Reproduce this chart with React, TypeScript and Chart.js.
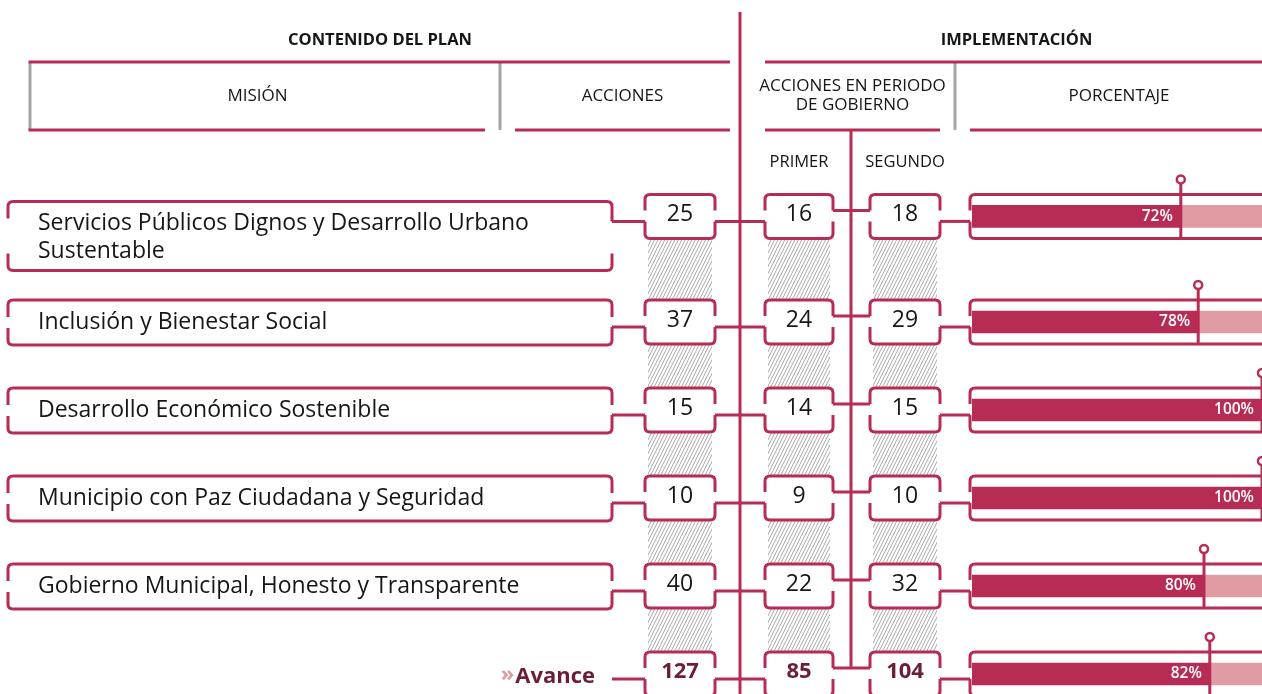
import React, { useEffect, useRef } from 'react';
import { Chart, registerables } from 'chart.js';

Chart.register(...registerables);

// ---------- DATA ----------
const missions: string[][] = [
  ['Servicios Públicos Dignos y Desarrollo Urbano', 'Sustentable'],
  ['Inclusión y Bienestar Social'],
  ['Desarrollo Económico Sostenible'],
  ['Municipio con Paz Ciudadana y Seguridad'],
  ['Gobierno Municipal, Honesto y Transparente'],
];
const totalLabel = 'Avance';
const acciones = [25, 37, 15, 10, 40, 127];
const primer = [16, 24, 14, 9, 22, 85];
const segundo = [18, 29, 15, 10, 32, 104];
const porcentaje = [72, 78, 100, 100, 80, 82];

const headerLeft = 'CONTENIDO DEL PLAN';
const headerRight = 'IMPLEMENTACIÓN';
const colMision = 'MISIÓN';
const colAcciones = 'ACCIONES';
const colPeriodo = ['ACCIONES EN PERIODO', 'DE GOBIERNO'];
const colPorcentaje = 'PORCENTAJE';
const subPrimer = 'PRIMER';
const subSegundo = 'SEGUNDO';

// ---------- STYLE ----------
const PINK = '#b72c55';
const LIGHT = '#e09ba3';
const MAROON = '#6b1d39';
const GRAY = '#a5a5a5';
const HATCH = '#a9a9a9';
const TEXT = '#161616';
const FONT = "'Open Sans', 'Noto Sans', sans-serif";

// rows: taller rows for multi-line mission labels
const rowLines = [...missions.map((m) => m.length), 1];
const rowPos: number[] = [];
rowLines.forEach((_, i) => {
  rowPos.push(i === 0 ? 0 : rowPos[i - 1] + 1 + 0.2 * (rowLines[i - 1] - 1));
});

// column geometry
const MIS = [8, 612];
const ACC = [645, 715];
const PRI = [765, 833];
const SEG = [870, 940];
const PCT_L = 970;
const X_MAIN = 740;
const X_SUB = 851;

function seg(ctx: CanvasRenderingContext2D, x1: number, y1: number, x2: number, y2: number) {
  ctx.beginPath();
  ctx.moveTo(x1, y1);
  ctx.lineTo(x2, y2);
  ctx.stroke();
}

function bracketBox(
  ctx: CanvasRenderingContext2D,
  x1: number, x2: number, top: number, bottom: number,
  lt: number, lb: number, rt: number, rb: number, r = 5
) {
  ctx.beginPath();
  ctx.moveTo(x1, lt);
  ctx.lineTo(x1, top + r);
  ctx.quadraticCurveTo(x1, top, x1 + r, top);
  ctx.lineTo(x2 - r, top);
  ctx.quadraticCurveTo(x2, top, x2, top + r);
  ctx.lineTo(x2, rt);
  ctx.moveTo(x1, lb);
  ctx.lineTo(x1, bottom - r);
  ctx.quadraticCurveTo(x1, bottom, x1 + r, bottom);
  ctx.lineTo(x2 - r, bottom);
  ctx.quadraticCurveTo(x2, bottom, x2, bottom - r);
  ctx.lineTo(x2, rb);
  ctx.stroke();
}

function hatch(ctx: CanvasRenderingContext2D, x1: number, x2: number, y1: number, y2: number) {
  if (y2 <= y1) return;
  ctx.save();
  ctx.beginPath();
  ctx.rect(x1, y1, x2 - x1, y2 - y1);
  ctx.clip();
  ctx.strokeStyle = HATCH;
  ctx.lineWidth = 1;
  const h = y2 - y1;
  const dx = h * 0.5;
  for (let x = x1 - dx; x < x2 + 4; x += 3.4) {
    seg(ctx, x, y2, x + dx, y1);
  }
  ctx.restore();
}

const infographic = {
  id: 'infographic',
  afterDatasetsDraw(chart: any) {
    const ctx: CanvasRenderingContext2D = chart.ctx;
    const ys = chart.scales.y;
    const W = chart.width;
    const H = chart.height;
    const rows = rowPos.map((p) => ys.getPixelForValue(p));
    ctx.save();
    ctx.lineCap = 'butt';
    ctx.lineJoin = 'round';

    // ----- header -----
    ctx.strokeStyle = GRAY;
    ctx.lineWidth = 3;
    seg(ctx, 30, 63, 30, 130);
    seg(ctx, 500, 63, 500, 130);
    seg(ctx, 955, 63, 955, 130);
    ctx.strokeStyle = PINK;
    seg(ctx, 28.5, 62, 730, 62);
    seg(ctx, 765, 62, W, 62);
    seg(ctx, 28.5, 130, 485, 130);
    seg(ctx, 515, 130, 730, 130);
    seg(ctx, 765, 130, 940, 130);
    seg(ctx, PCT_L, 130, W, 130);

    ctx.fillStyle = TEXT;
    ctx.textAlign = 'center';
    ctx.textBaseline = 'middle';
    ctx.font = `bold 16.5px ${FONT}`;
    ctx.fillText(headerLeft, (30 + 730) / 2, 40);
    ctx.fillText(headerRight, (765 + W) / 2 + 3, 40);
    ctx.font = `17px ${FONT}`;
    ctx.fillText(colMision, (30 + 485) / 2, 96);
    ctx.fillText(colAcciones, (515 + 730) / 2, 96);
    ctx.fillText(colPeriodo[0], (765 + 940) / 2, 86);
    ctx.fillText(colPeriodo[1], (765 + 940) / 2, 105);
    ctx.fillText(colPorcentaje, (PCT_L + W) / 2 + 3, 96);
    ctx.font = `16.5px ${FONT}`;
    ctx.fillText(subPrimer, (PRI[0] + PRI[1]) / 2, 162);
    ctx.fillText(subSegundo, (SEG[0] + SEG[1]) / 2, 162);

    // ----- hatching between rows -----
    for (let i = 0; i < rows.length - 1; i++) {
      const b = rows[i] + 23;
      const t = rows[i + 1] - 23;
      hatch(ctx, ACC[0] + 3, ACC[1] - 3, b, t);
      hatch(ctx, PRI[0] + 3, PRI[1] - 3, b, t);
      hatch(ctx, SEG[0] + 3, SEG[1] - 3, b, t);
    }

    // ----- vertical spines -----
    ctx.strokeStyle = PINK;
    ctx.lineWidth = 3;
    seg(ctx, X_MAIN, 12, X_MAIN, H);
    const lastT = rows[rows.length - 1] - 22;
    seg(ctx, X_SUB, 130, X_SUB, lastT + 16);

    // ----- rows -----
    rows.forEach((c, i) => {
      const T = c - 22;
      const B = c + 22;
      const cLow = T + 27;
      const cHigh = T + 16;
      const isTotal = i === rows.length - 1;
      ctx.strokeStyle = PINK;
      ctx.lineWidth = 3;

      if (!isTotal) {
        const lines = missions[i];
        const mt = c - 22 + 7 * (lines.length - 1);
        const mb = mt + 45 + 24 * (lines.length - 1);
        let rt = mt + 17;
        let rb = mb - 17;
        if (cLow < (mt + mb) / 2) rt = Math.max(rt, cLow);
        else rb = Math.min(rb, cLow);
        bracketBox(ctx, MIS[0], MIS[1], mt, mb, mt + 17, mb - 17, rt, rb);
        ctx.fillStyle = TEXT;
        ctx.textAlign = 'left';
        ctx.textBaseline = 'middle';
        ctx.font = `23px ${FONT}`;
        lines.forEach((ln, k) => ctx.fillText(ln, 38, mt + 22 + k * 28));
      } else {
        ctx.textAlign = 'right';
        ctx.textBaseline = 'middle';
        ctx.font = `bold 22px ${FONT}`;
        ctx.fillStyle = MAROON;
        ctx.fillText(totalLabel, 595, c + 3);
        const w = ctx.measureText(totalLabel).width;
        ctx.fillStyle = LIGHT;
        ctx.font = `bold 22px ${FONT}`;
        ctx.fillText('»', 595 - w - 1, c + 1);
      }
      // connectors
      seg(ctx, MIS[1], cLow, ACC[0], cLow);
      seg(ctx, ACC[1], cLow, PRI[0], cLow);
      seg(ctx, PRI[1], cHigh, SEG[0], cHigh);
      seg(ctx, SEG[1], cLow, PCT_L, cLow);
      // boxes
      bracketBox(ctx, ACC[0], ACC[1], T, B, cHigh, cLow, cHigh, cLow);
      bracketBox(ctx, PRI[0], PRI[1], T, B, cHigh, cLow, cHigh, cLow);
      bracketBox(ctx, SEG[0], SEG[1], T, B, cHigh, cLow, cHigh, cLow);
      bracketBox(ctx, PCT_L, W + 20, T, B, cHigh, cLow, B, B);

      // numbers
      ctx.textAlign = 'center';
      ctx.textBaseline = 'middle';
      ctx.fillStyle = isTotal ? MAROON : TEXT;
      ctx.font = `${isTotal ? 'bold 22px' : '23px'} ${FONT}`;
      ctx.fillText(String(acciones[i]), (ACC[0] + ACC[1]) / 2, c - 2);
      ctx.fillText(String(primer[i]), (PRI[0] + PRI[1]) / 2, c - 2);
      ctx.fillText(String(segundo[i]), (SEG[0] + SEG[1]) / 2, c - 2);
    });

    // ----- pins and percentage labels -----
    const meta = chart.getDatasetMeta(0);
    meta.data.forEach((el: any, i: number) => {
      const c = rows[i];
      const x = el.x;
      ctx.strokeStyle = PINK;
      ctx.lineWidth = 3;
      seg(ctx, x, c - 33, x, c + 22);
      ctx.beginPath();
      ctx.arc(x, c - 37, 4, 0, Math.PI * 2);
      ctx.fillStyle = '#ffffff';
      ctx.fill();
      ctx.lineWidth = 2.5;
      ctx.stroke();
      ctx.fillStyle = '#ffffff';
      ctx.textAlign = 'right';
      ctx.textBaseline = 'middle';
      ctx.font = `600 15.5px ${FONT}`;
      ctx.fillText(`${porcentaje[i]}%`, x - 8, el.y);
    });
    ctx.restore();
  },
};

export default function App() {
  const ref = useRef<HTMLCanvasElement | null>(null);
  useEffect(() => {
    if (!ref.current) return;
    const chart = new Chart(ref.current, {
      type: 'bar',
      data: {
        datasets: [
          {
            label: 'Avance',
            data: porcentaje.map((v, i) => ({ x: [0, v], y: rowPos[i] })) as any,
            backgroundColor: PINK,
            barThickness: 22,
            grouped: false,
            borderWidth: 0,
          } as any,
          {
            label: 'Pendiente',
            data: porcentaje.map((v, i) => ({ x: [v, 100], y: rowPos[i] })) as any,
            backgroundColor: LIGHT,
            barThickness: 22,
            grouped: false,
            borderWidth: 0,
          } as any,
        ],
      },
      options: {
        indexAxis: 'y',
        animation: false,
        responsive: false,
        maintainAspectRatio: false,
        devicePixelRatio: 1,
        layout: { padding: { left: 972, right: 0, top: 0, bottom: 0 } },
        scales: {
          x: { type: 'linear', min: 0, max: 100, display: false, offset: false },
          y: { type: 'linear', reverse: true, min: -2.459, max: 5.427, display: false, offset: false, grace: 0 },
        },
        plugins: { legend: { display: false }, tooltip: { enabled: false } },
      } as any,
      plugins: [infographic],
    });
    return () => chart.destroy();
  }, []);
  return (
    <div style={{ position: 'fixed', left: 0, top: 0, width: 1262, height: 694, background: '#fff' }}>
      <canvas ref={ref} width={1262} height={694} style={{ display: 'block' }} />
    </div>
  );
}
